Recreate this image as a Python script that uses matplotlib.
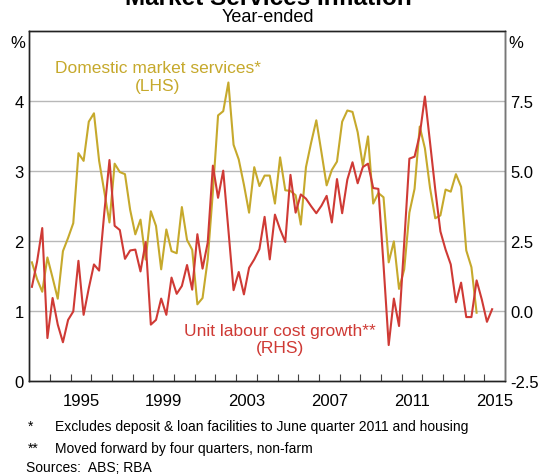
import matplotlib
matplotlib.use('Agg')
import matplotlib.pyplot as plt
import pandas as pd

plt.rcParams['font.family'] = ['Liberation Sans', 'DejaVu Sans']

# quarterly data, March quarter 1993 onwards
market_services = [1.69, 1.45, 1.27, 1.76, 1.47, 1.17, 1.85, 2.04, 2.25, 3.25, 3.14, 3.70,
                   3.82, 3.14, 2.70, 2.26, 3.10, 2.98, 2.95, 2.44, 2.09, 2.30, 1.73,
                   2.42, 2.21, 1.59, 2.16, 1.85, 1.82, 2.48, 2.01, 1.87, 1.09, 1.18, 1.73,
                   2.70, 3.79, 3.85, 4.26, 3.37, 3.16, 2.80, 2.40, 3.05, 2.78, 2.93,
                   2.93, 2.53, 3.19, 2.72, 2.71, 2.65, 2.23, 3.05, 3.40, 3.72, 3.26, 2.79,
                   3.01, 3.13, 3.70, 3.86, 3.84, 3.55, 3.07, 3.49, 2.53, 2.68, 2.62, 1.69,
                   1.99, 1.31, 1.59, 2.40, 2.74, 3.63, 3.32, 2.75, 2.32, 2.36, 2.73, 2.70,
                   2.95, 2.77, 1.86, 1.62, 0.97]
unit_labour_cost = [0.85, 1.75, 2.95, -0.98, 0.45, -0.50, -1.13, -0.33, -0.03, 1.78, -0.15, 0.80,
                    1.65, 1.43, 3.50, 5.38, 3.03, 2.88, 1.85, 2.15, 2.18, 1.40, 2.45,
                    -0.50, -0.33, 0.43, -0.15, 1.18, 0.60, 0.88, 1.63, 0.75, 2.73, 1.50, 2.43,
                    5.18, 4.03, 5.00, 2.88, 0.73, 1.38, 0.58, 1.53, 1.83, 2.20, 3.35,
                    1.83, 3.43, 2.90, 2.45, 4.85, 3.50, 4.15, 4.00, 3.73, 3.48, 3.75, 4.10,
                    3.15, 4.70, 3.48, 4.68, 5.30, 4.55, 5.13, 5.25, 4.38, 4.35, 1.63, -1.23,
                    0.43, -0.55, 2.43, 5.43, 5.50, 6.28, 7.65, 6.00, 4.33, 2.83, 2.18, 1.65,
                    0.30, 1.00, -0.23, -0.23, 1.08, 0.40, -0.40, 0.05]

year_labels = [1995, 1999, 2003, 2007, 2011, 2015]
left_ticks = [0, 1, 2, 3, 4]
right_ticks = [-2.5, 0.0, 2.5, 5.0, 7.5]

def quarter_pos(n):
    q = pd.period_range('1993Q1', periods=n, freq='Q')
    return q.year + (q.quarter - 0.5) / 4

yellow = '#c6a92c'
red = '#cf3a35'

fig = plt.figure(figsize=(5.47, 4.77), dpi=100)
ax = fig.add_axes([0.0536, 0.2, 0.8697, 0.7335])
ax2 = ax.twinx()

ax.plot(quarter_pos(len(market_services)), market_services, color=yellow, linewidth=1.5)
ax2.plot(quarter_pos(len(unit_labour_cost)), unit_labour_cost, color=red, linewidth=1.5)

ax.set_xlim(1993, 2016)
ax.set_ylim(0, 5)
ax2.set_ylim(-2.5, 10)

# gridlines on left scale
for v in left_ticks[1:]:
    ax.axhline(v, color='#b8b8b8', linewidth=1, zorder=0)

ax.set_yticks(left_ticks)
ax.set_yticklabels([str(v) for v in left_ticks])
ax2.set_yticks(right_ticks)
ax2.set_yticklabels(['%.1f' % v for v in right_ticks])
ax.tick_params(axis='y', length=0, labelsize=12, pad=4)
ax2.tick_params(axis='y', length=0, labelsize=12, pad=4)

# year ticks at year boundaries, labels in middle of year
ax.set_xticks(range(1994, 2016))
ax.set_xticklabels([])
ax.set_xticks([y + 0.5 for y in year_labels], minor=True)
ax.set_xticklabels([str(y) for y in year_labels], minor=True)
ax.tick_params(axis='x', which='major', direction='in', length=5, width=0.8, color='#444444')
ax.tick_params(axis='x', which='minor', length=0, labelsize=12, pad=9)

for a in (ax, ax2):
    for s in a.spines.values():
        s.set_color('#222222')
        s.set_linewidth(1)
ax2.spines['right'].set_color('#777777')

# series labels
ax.text(1999.2, 4.48, 'Domestic market services*', color=yellow, fontsize=12.5, ha='center', va='center')
ax.text(1999.2, 4.22, '(LHS)', color=yellow, fontsize=12.5, ha='center', va='center')
ax.text(2005.1, 0.71, 'Unit labour cost growth**', color=red, fontsize=12.5, ha='center', va='center')
ax.text(2005.1, 0.47, '(RHS)', color=red, fontsize=12.5, ha='center', va='center')

# titles and units
fig.text(0.49, 1 - 5 / 477, 'Market Services Inflation', fontsize=17.5, fontweight='bold',
         ha='center', va='baseline')
fig.text(0.49, 1 - 17 / 477, 'Year-ended', fontsize=13, ha='center', va='center')
fig.text(25 / 547, 1 - 43 / 477, '%', fontsize=12, ha='right', va='center')
fig.text(508 / 547, 1 - 43 / 477, '%', fontsize=12, ha='left', va='center')

# footnotes
fig.text(28 / 547, 1 - 427 / 477, '*', fontsize=10, va='center')
fig.text(55 / 547, 1 - 427 / 477, 'Excludes deposit & loan facilities to June quarter 2011 and housing',
         fontsize=10, va='center')
fig.text(28 / 547, 1 - 449 / 477, '**', fontsize=10, va='center')
fig.text(55 / 547, 1 - 449 / 477, 'Moved forward by four quarters, non-farm', fontsize=10, va='center')
fig.text(26 / 547, 1 - 468 / 477, 'Sources:  ABS; RBA', fontsize=10, va='center')

fig.savefig('out.png', dpi=100)
